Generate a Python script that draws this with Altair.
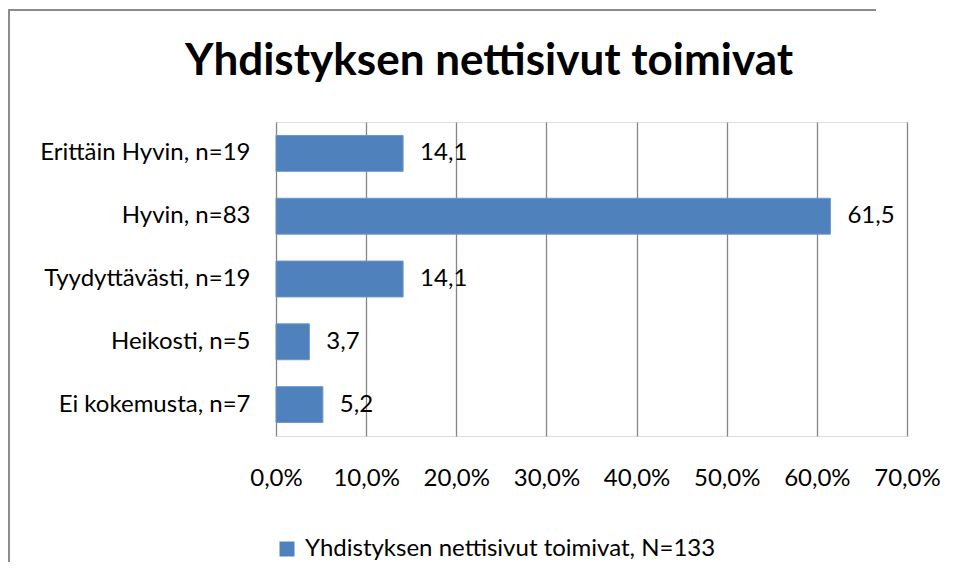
import altair as alt
import pandas as pd

categories = ["Erittäin Hyvin, n=19", "Hyvin, n=83", "Tyydyttävästi, n=19", "Heikosti, n=5", "Ei kokemusta, n=7"]
values = [14.1, 61.5, 14.1, 3.7, 5.2]
value_labels = ["14,1", "61,5", "14,1", "3,7", "5,2"]
series_name = "Yhdistyksen nettisivut toimivat, N=133"
x_ticks = [0, 10, 20, 30, 40, 50, 60, 70]
title_text = "Yhdistyksen nettisivut toimivat"

FONT = "Lato"
BLUE = "#4F81BD"
GRID = "#868686"
FS = 24

df = pd.DataFrame({
    "cat": categories,
    "val": values,
    "lab": value_labels,
    "series": [series_name] * len(categories),
})

y_enc = alt.Y("cat:N", sort=categories,
              scale=alt.Scale(paddingInner=0.4286, paddingOuter=0.2143),
              axis=alt.Axis(title=None, domain=False, ticks=False, labelPadding=26,
                            labelFont=FONT, labelFontSize=FS, labelColor="#000000",
                            labelLimit=400))
x_enc = alt.X("val:Q", scale=alt.Scale(domain=[0, 70], nice=False),
              axis=alt.Axis(title=None, values=x_ticks, domain=False, ticks=False, tickSize=0,
                            grid=True, gridColor=GRID, gridWidth=1.3,
                            labelExpr="replace(format(datum.value, '.1f'), '.', ',') + '%'",
                            labelFont=FONT, labelFontSize=FS, labelColor="#000000",
                            labelBaseline="alphabetic", labelPadding=49, labelFlush=False))

base = alt.Chart(df)

bars = base.mark_bar(stroke="#6A96CC", strokeWidth=1).encode(
    x=x_enc,
    y=y_enc,
    color=alt.Color("series:N", scale=alt.Scale(range=[BLUE]),
                    legend=alt.Legend(title=None, orient="none", legendX=-1, legendY=415,
                                      symbolType="square", symbolSize=225, symbolStrokeWidth=0,
                                      labelFont=FONT, labelFontSize=FS, labelColor="#000000",
                                      labelOffset=6, padding=0, labelLimit=600)),
)

texts = base.mark_text(align="left", baseline="middle", dx=17, font=FONT, fontSize=FS,
                       color="#000000").encode(
    x=alt.X("val:Q"),
    y=alt.Y("cat:N", sort=categories),
    text="lab:N",
)

title_df = pd.DataFrame({"t": [title_text]})
title_mark = alt.Chart(title_df).mark_text(
    font=FONT, fontSize=44, fontWeight="bold", color="#000000",
    align="center", baseline="alphabetic"
).encode(x=alt.value(213), y=alt.value(-47), text="t:N")

border_left = alt.Chart(pd.DataFrame({"a": [0]})).mark_rect(
    color="#8C8C8C", strokeWidth=0, clip=False
).encode(
    x=alt.value(-268), x2=alt.value(-266), y=alt.value(-113), y2=alt.value(440)
)
border_top = alt.Chart(pd.DataFrame({"b": [1]})).mark_rect(
    color="#8C8C8C", strokeWidth=0, clip=False
).encode(
    x=alt.value(-268), x2=alt.value(600), y=alt.value(-113), y2=alt.value(-111)
)

chart = alt.layer(border_left, border_top, title_mark, bars, texts).properties(
    width=631,
    height=314,
    padding={"left": 268, "top": 114, "right": 43, "bottom": 126},
    autosize=alt.AutoSizeParams(type="none"),
).configure_view(stroke=None).configure(background="white")

chart.save("out.html", embed_options={"renderer": "svg", "actions": False})
